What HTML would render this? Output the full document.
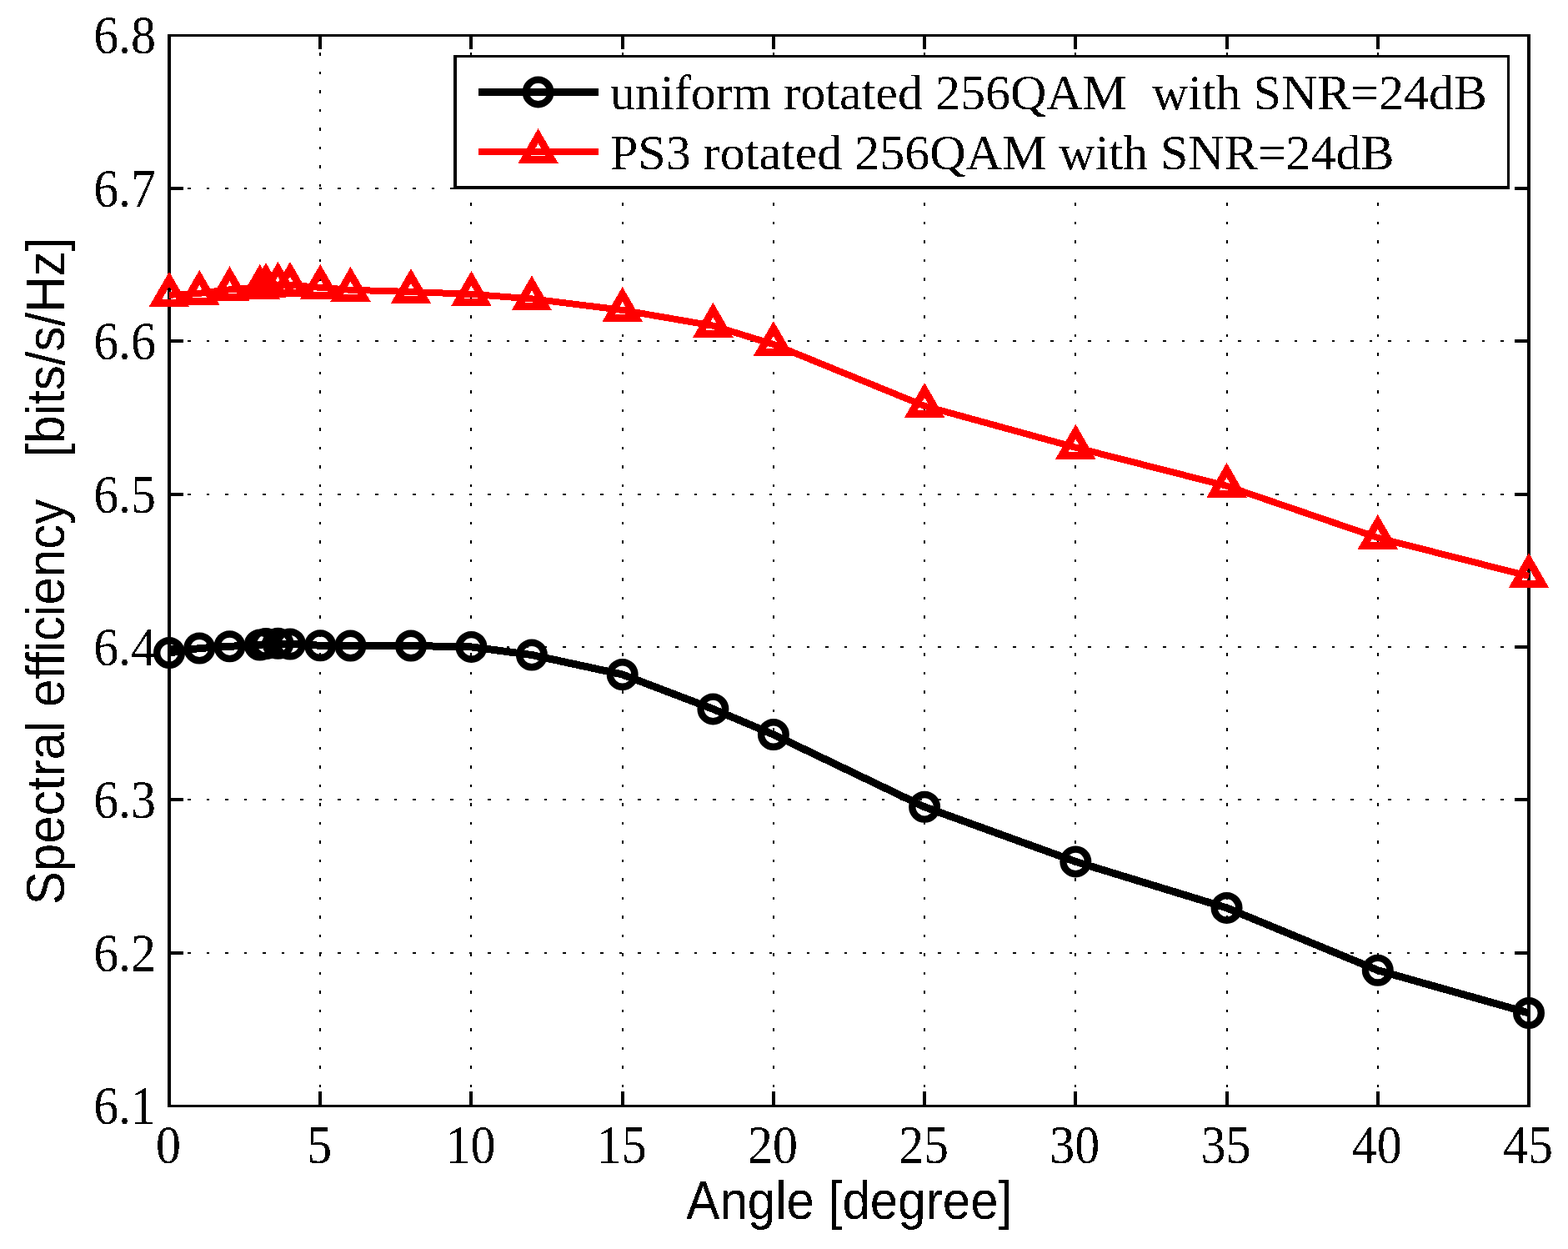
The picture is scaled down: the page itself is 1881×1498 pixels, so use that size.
<!DOCTYPE html><html><head><meta charset="utf-8"><style>html,body{margin:0;padding:0;background:#fff;}svg{display:block}.s{font-family:"Liberation Serif","Times New Roman",serif;font-size:60px;fill:#000}text{filter:url(#bin);white-space:pre}.t{font-family:"Liberation Serif","Times New Roman",serif;font-size:64.5px;fill:#000}.a{font-family:"Liberation Sans",Arial,sans-serif;font-size:64.3px;fill:#000}</style></head><body>
<svg width="1881" height="1498" viewBox="0 0 1881 1498" shape-rendering="crispEdges">
<rect width="1881" height="1498" fill="#fff"/>
<defs><filter id="bin" x="-5%" y="-20%" width="110%" height="140%"><feComponentTransfer><feFuncA type="discrete" tableValues="0 1"/></feComponentTransfer></filter></defs>
<path d="M202.75 1143.00H1834 M202.75 959.00H1834 M202.75 776.00H1834 M202.75 593.00H1834 M202.75 409.00H1834 M202.75 226.00H1834 M384.22 40.75V1326.5 M565.44 40.75V1326.5 M746.67 40.75V1326.5 M927.89 40.75V1326.5 M1109.11 40.75V1326.5 M1290.33 40.75V1326.5 M1471.56 40.75V1326.5 M1652.78 40.75V1326.5" stroke="#000" stroke-width="2" stroke-dasharray="3.5 19" fill="none"/>
<path d="M203 1143.00H220 M1834 1143.00H1817 M203 959.00H220 M1834 959.00H1817 M203 776.00H220 M1834 776.00H1817 M203 593.00H220 M1834 593.00H1817 M203 409.00H220 M1834 409.00H1817 M203 226.00H220 M1834 226.00H1817 M384.22 42.5V59 M384.22 1326.5V1309 M565.44 42.5V59 M565.44 1326.5V1309 M746.67 42.5V59 M746.67 1326.5V1309 M927.89 42.5V59 M927.89 1326.5V1309 M1109.11 42.5V59 M1109.11 1326.5V1309 M1290.33 42.5V59 M1290.33 1326.5V1309 M1471.56 42.5V59 M1471.56 1326.5V1309 M1652.78 42.5V59 M1652.78 1326.5V1309" stroke="#000" stroke-width="4" fill="none"/>
<path d="M203 42V1327.5 M1834 42V1328" stroke="#000" stroke-width="4" fill="none"/>
<path d="M201 42.5H1836 M201 1326.5H1836" stroke="#000" stroke-width="3" fill="none"/>
<text class="t" transform="translate(187.1 1348.0) scale(0.93 1)" text-anchor="end">6.1</text>
<text class="t" transform="translate(187.1 1164.5) scale(0.93 1)" text-anchor="end">6.2</text>
<text class="t" transform="translate(187.1 980.5) scale(0.93 1)" text-anchor="end">6.3</text>
<text class="t" transform="translate(187.1 797.5) scale(0.93 1)" text-anchor="end">6.4</text>
<text class="t" transform="translate(187.1 614.5) scale(0.93 1)" text-anchor="end">6.5</text>
<text class="t" transform="translate(187.1 430.5) scale(0.93 1)" text-anchor="end">6.6</text>
<text class="t" transform="translate(187.1 247.5) scale(0.93 1)" text-anchor="end">6.7</text>
<text class="t" transform="translate(187.1 64.0) scale(0.93 1)" text-anchor="end">6.8</text>
<text class="t" transform="translate(202.00 1394.5) scale(0.93 1)" text-anchor="middle">0</text>
<text class="t" transform="translate(383.22 1394.5) scale(0.93 1)" text-anchor="middle">5</text>
<text class="t" transform="translate(564.44 1394.5) scale(0.93 1)" text-anchor="middle">10</text>
<text class="t" transform="translate(745.67 1394.5) scale(0.93 1)" text-anchor="middle">15</text>
<text class="t" transform="translate(926.89 1394.5) scale(0.93 1)" text-anchor="middle">20</text>
<text class="t" transform="translate(1108.11 1394.5) scale(0.93 1)" text-anchor="middle">25</text>
<text class="t" transform="translate(1289.33 1394.5) scale(0.93 1)" text-anchor="middle">30</text>
<text class="t" transform="translate(1470.56 1394.5) scale(0.93 1)" text-anchor="middle">35</text>
<text class="t" transform="translate(1651.78 1394.5) scale(0.93 1)" text-anchor="middle">40</text>
<text class="t" transform="translate(1833.00 1394.5) scale(0.93 1)" text-anchor="middle">45</text>
<text class="a" transform="translate(1018.8 1461.8) scale(0.935 1)" text-anchor="middle">Angle [degree]</text>
<text class="a" transform="translate(77 685) rotate(-90) scale(0.935 1)" text-anchor="middle" xml:space="preserve">Spectral efficiency   [bits/s/Hz]</text>
<polyline points="203.00,783.00 239.24,777.50 275.49,775.30 311.73,773.50 318.98,772.00 333.48,771.80 347.98,772.50 384.22,774.20 420.47,774.50 492.96,774.50 565.44,775.90 637.93,785.50 746.67,809.00 855.40,850.40 927.89,881.00 1109.11,967.80 1290.33,1033.40 1471.56,1088.90 1652.78,1163.70 1834.00,1215.00" fill="none" stroke="#000" stroke-width="9" stroke-linejoin="round"/>
<g fill="none" stroke="#000" stroke-width="8.4"><circle cx="203.00" cy="783.00" r="14.8" shape-rendering="geometricPrecision"/><circle cx="239.24" cy="777.50" r="14.8" shape-rendering="geometricPrecision"/><circle cx="275.49" cy="775.30" r="14.8" shape-rendering="geometricPrecision"/><circle cx="311.73" cy="773.50" r="14.8" shape-rendering="geometricPrecision"/><circle cx="318.98" cy="772.00" r="14.8" shape-rendering="geometricPrecision"/><circle cx="333.48" cy="771.80" r="14.8" shape-rendering="geometricPrecision"/><circle cx="347.98" cy="772.50" r="14.8" shape-rendering="geometricPrecision"/><circle cx="384.22" cy="774.20" r="14.8" shape-rendering="geometricPrecision"/><circle cx="420.47" cy="774.50" r="14.8" shape-rendering="geometricPrecision"/><circle cx="492.96" cy="774.50" r="14.8" shape-rendering="geometricPrecision"/><circle cx="565.44" cy="775.90" r="14.8" shape-rendering="geometricPrecision"/><circle cx="637.93" cy="785.50" r="14.8" shape-rendering="geometricPrecision"/><circle cx="746.67" cy="809.00" r="14.8" shape-rendering="geometricPrecision"/><circle cx="855.40" cy="850.40" r="14.8" shape-rendering="geometricPrecision"/><circle cx="927.89" cy="881.00" r="14.8" shape-rendering="geometricPrecision"/><circle cx="1109.11" cy="967.80" r="14.8" shape-rendering="geometricPrecision"/><circle cx="1290.33" cy="1033.40" r="14.8" shape-rendering="geometricPrecision"/><circle cx="1471.56" cy="1088.90" r="14.8" shape-rendering="geometricPrecision"/><circle cx="1652.78" cy="1163.70" r="14.8" shape-rendering="geometricPrecision"/><circle cx="1834.00" cy="1215.00" r="14.8" shape-rendering="geometricPrecision"/></g>
<polyline points="203.00,353.80 239.24,351.80 275.49,347.30 311.73,344.80 318.98,343.00 333.48,341.80 347.98,341.90 384.22,344.80 420.47,347.80 492.96,350.00 565.44,352.90 637.93,358.40 746.67,371.90 855.40,390.70 927.89,413.00 1109.11,486.90 1290.33,536.70 1471.56,582.90 1652.78,644.90 1834.00,691.00" fill="none" stroke="#f00" stroke-width="8" stroke-linejoin="round"/>
<g fill="none" stroke="#f00" stroke-width="9" stroke-linejoin="miter"><path d="M203.00 334.80L219.45 363.30L186.55 363.30Z"/><path d="M239.24 332.80L255.70 361.30L222.79 361.30Z"/><path d="M275.49 328.30L291.94 356.80L259.03 356.80Z"/><path d="M311.73 325.80L328.19 354.30L295.28 354.30Z"/><path d="M318.98 324.00L335.44 352.50L302.53 352.50Z"/><path d="M333.48 322.80L349.93 351.30L317.03 351.30Z"/><path d="M347.98 322.90L364.43 351.40L331.52 351.40Z"/><path d="M384.22 325.80L400.68 354.30L367.77 354.30Z"/><path d="M420.47 328.80L436.92 357.30L404.01 357.30Z"/><path d="M492.96 331.00L509.41 359.50L476.50 359.50Z"/><path d="M565.44 333.90L581.90 362.40L548.99 362.40Z"/><path d="M637.93 339.40L654.39 367.90L621.48 367.90Z"/><path d="M746.67 352.90L763.12 381.40L730.21 381.40Z"/><path d="M855.40 371.70L871.85 400.20L838.95 400.20Z"/><path d="M927.89 394.00L944.34 422.50L911.43 422.50Z"/><path d="M1109.11 467.90L1125.57 496.40L1092.66 496.40Z"/><path d="M1290.33 517.70L1306.79 546.20L1273.88 546.20Z"/><path d="M1471.56 563.90L1488.01 592.40L1455.10 592.40Z"/><path d="M1652.78 625.90L1669.23 654.40L1636.32 654.40Z"/><path d="M1834.00 672.00L1850.45 700.50L1817.55 700.50Z"/></g>
<rect x="546" y="67.5" width="1263.5" height="158" fill="#fff" stroke="none"/>
<path d="M546 66V227" stroke="#000" stroke-width="4" fill="none"/>
<path d="M1809.5 66V227" stroke="#000" stroke-width="3" fill="none"/>
<path d="M544 67.5H1811" stroke="#000" stroke-width="3" fill="none"/>
<path d="M544 225H1811" stroke="#000" stroke-width="4" fill="none"/>
<path d="M574 110.5H718" stroke="#000" stroke-width="9"/>
<g fill="none" stroke="#000" stroke-width="8.4"><circle cx="645.60" cy="110.40" r="14.8" shape-rendering="geometricPrecision"/></g>
<path d="M574 182H718" stroke="#f00" stroke-width="8"/>
<g fill="none" stroke="#f00" stroke-width="9" stroke-linejoin="miter"><path d="M645.60 163.00L662.05 191.50L629.15 191.50Z"/></g>
<text class="s" x="732" y="131" xml:space="preserve">uniform rotated 256QAM  with SNR=24dB</text>
<text class="s" x="732" y="202.5" xml:space="preserve">PS3 rotated 256QAM with SNR=24dB</text>
</svg></body></html>
